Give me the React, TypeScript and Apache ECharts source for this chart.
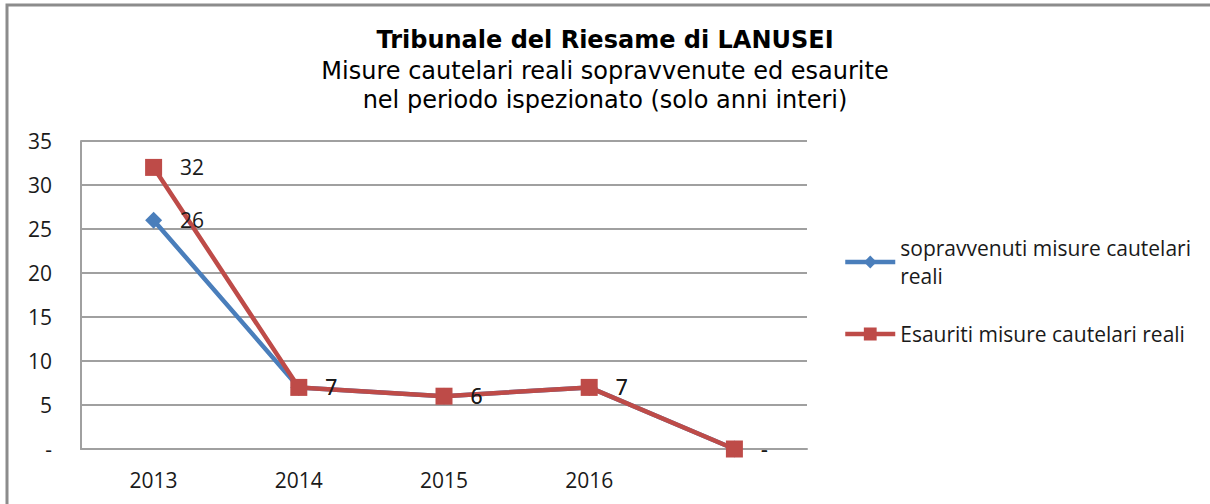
import React, { useEffect, useRef } from "react";
import * as echarts from "echarts";

const categories = ["2013", "2014", "2015", "2016", ""];
const sopravvenuti = [26, 7, 6, 7, 0];
const esauriti = [32, 7, 6, 7, 0];
const seriesNames = ["sopravvenuti misure cautelari reali", "Esauriti misure cautelari reali"];
const titleText = "Tribunale del Riesame di LANUSEI";
const subtitleText = "Misure cautelari reali sopravvenute ed esaurite\nnel periodo ispezionato (solo anni interi)";

const BLUE = "#4A7EBB";
const RED = "#BE4B48";
const FONT = "Open Sans";
const TXT = "#1a1a1a";

const fmt = (v: number) => (v === 0 ? "-" : String(v));

export default function App() {
  const ref = useRef<HTMLDivElement>(null);
  useEffect(() => {
    if (!ref.current) return;
    const chart = echarts.init(ref.current, null, { renderer: "svg" });
    const labelCfg = {
      show: true,
      position: "right" as const,
      distance: 18,
      fontFamily: FONT,
      fontSize: 21,
      color: TXT,
      formatter: (p: any) => fmt(p.value),
    };
    const legendBase = {
      orient: "vertical",
      left: 843,
      padding: 0,
      itemWidth: 50,
      itemHeight: 16,
      lineStyle: { width: 4.5 },
    };
    chart.setOption({
      animation: false,
      backgroundColor: "#fff",
      title: {
        text: titleText,
        subtext: subtitleText,
        left: "center",
        top: 25,
        padding: 0,
        itemGap: 2,
        textStyle: { fontFamily: "DejaVu Sans", fontWeight: "bold", fontSize: 24, color: "#000", lineHeight: 29 },
        subtextStyle: { fontFamily: "DejaVu Sans", fontSize: 24, color: "#000", lineHeight: 29 },
      },
      grid: { left: 81, right: 403, top: 141, bottom: 55, containLabel: false },
      legend: [
        {
          ...legendBase,
          data: [seriesNames[0]],
          top: 220,
          textStyle: {
            fontFamily: FONT,
            fontSize: 21,
            color: TXT,
            lineHeight: 28,
            width: 300,
            overflow: "break",
            padding: [28, 0, 0, 0],
          },
        },
        {
          ...legendBase,
          data: [seriesNames[1]],
          top: 320,
          textStyle: { fontFamily: FONT, fontSize: 21, color: TXT, lineHeight: 28 },
        },
      ],
      xAxis: {
        type: "category",
        data: categories,
        boundaryGap: true,
        axisLine: { lineStyle: { color: "#a0a0a0", width: 2 } },
        axisTick: { show: false },
        axisLabel: { fontFamily: FONT, fontSize: 21, color: TXT, margin: 20 },
      },
      yAxis: {
        type: "value",
        min: 0,
        max: 35,
        interval: 5,
        axisLine: { show: true, lineStyle: { color: "#a0a0a0", width: 2 } },
        axisTick: { show: false },
        splitLine: { lineStyle: { color: "#a0a0a0", width: 2 } },
        axisLabel: { fontFamily: FONT, fontSize: 21, color: TXT, margin: 29, formatter: (v: number) => fmt(v) },
      },
      series: [
        {
          name: seriesNames[0],
          type: "line",
          data: sopravvenuti,
          symbol: "diamond",
          symbolSize: 17,
          itemStyle: { color: BLUE },
          lineStyle: { color: BLUE, width: 4.5 },
          label: labelCfg,
        },
        {
          name: seriesNames[1],
          type: "line",
          data: esauriti,
          symbol: "rect",
          symbolSize: 17,
          itemStyle: { color: RED },
          lineStyle: { color: RED, width: 4.5 },
          label: labelCfg,
        },
      ],
      graphic: [
        {
          type: "polyline",
          shape: { points: [[7, 504], [7, 5], [1210, 5]] },
          style: { stroke: "#8c8c8c", lineWidth: 3, fill: "none" },
          silent: true,
        },
      ],
    });
    return () => chart.dispose();
  }, []);
  return (
    <div
      ref={ref}
      style={{ position: "absolute", left: 0, top: 0, width: 1210, height: 504 }}
    />
  );
}
